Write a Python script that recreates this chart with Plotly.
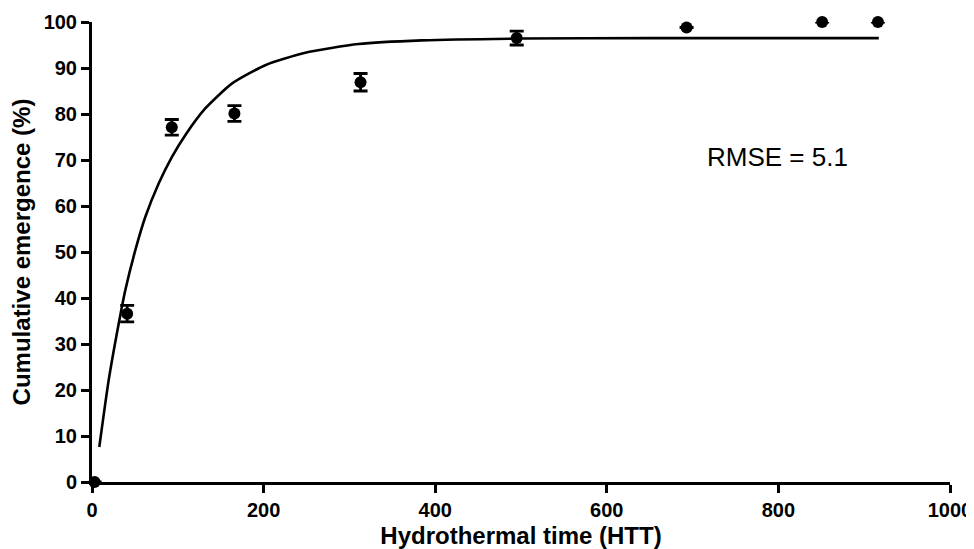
import plotly.graph_objects as go

# Observed data
htt = [3, 41, 93, 166, 313, 495, 693, 851, 916]
emergence = [0, 36.6, 77.1, 80.1, 86.9, 96.5, 98.8, 100, 100]
err = [0, 1.8, 1.7, 1.7, 1.9, 1.5, 0, 0, 0]

# Fitted curve
fit_x = [8.5, 19.4, 31.1, 38.8, 50.5, 62.1, 77.7, 93.2, 108.7, 132, 163, 201.9, 248.5, 310.6, 384.4, 500, 650, 800, 917]
fit_y = [7.6, 22.1, 34.4, 41.7, 50.4, 57.6, 64.9, 70.7, 75.4, 81.2, 86.6, 90.6, 93.3, 95.2, 96.0, 96.4, 96.5, 96.5, 96.5]

x_ticks = [0, 200, 400, 600, 800, 1000]
y_ticks = [0, 10, 20, 30, 40, 50, 60, 70, 80, 90, 100]

FONT = "Liberation Sans, Arial, sans-serif"

fig = go.Figure()
fig.add_trace(go.Scatter(
    x=fit_x, y=fit_y, mode="lines",
    line=dict(color="black", width=2.6, shape="spline", smoothing=0.6),
    hoverinfo="skip", showlegend=False, cliponaxis=False,
))
fig.add_trace(go.Scatter(
    x=htt, y=emergence, mode="markers",
    marker=dict(color="black", size=12),
    error_y=dict(type="data", array=err, visible=True, color="black", thickness=2.8, width=7),
    showlegend=False, cliponaxis=False,
))

fig.add_annotation(
    x=799, y=70.6, xref="x", yref="y", text="RMSE = 5.1", showarrow=False,
    font=dict(family=FONT, size=26, color="black"),
)

axis_common = dict(
    showline=True, linecolor="black", linewidth=3,
    ticks="outside", ticklen=8, tickwidth=2.5, tickcolor="black",
    showgrid=False, zeroline=False, automargin=False,
    tickfont=dict(family=FONT, size=20, color="black", weight="bold"),
)

fig.update_layout(
    template="simple_white",
    width=966, height=541,
    paper_bgcolor="white", plot_bgcolor="white",
    margin=dict(l=84, r=24, t=14, b=67),
    xaxis=dict(
        range=[0, 1000], tickvals=x_ticks, ticktext=[str(v) for v in x_ticks],
        title=dict(text="<b>Hydrothermal time (HTT)</b>", font=dict(family=FONT, size=24, color="black"), standoff=12),
        **axis_common,
    ),
    yaxis=dict(
        range=[0, 100], tickvals=y_ticks, ticktext=[str(v) for v in y_ticks],
        title=dict(text="<b>Cumulative emergence (%)</b>", font=dict(family=FONT, size=24, color="black"), standoff=10),
        **axis_common,
    ),
)

fig.write_html("out.html")
